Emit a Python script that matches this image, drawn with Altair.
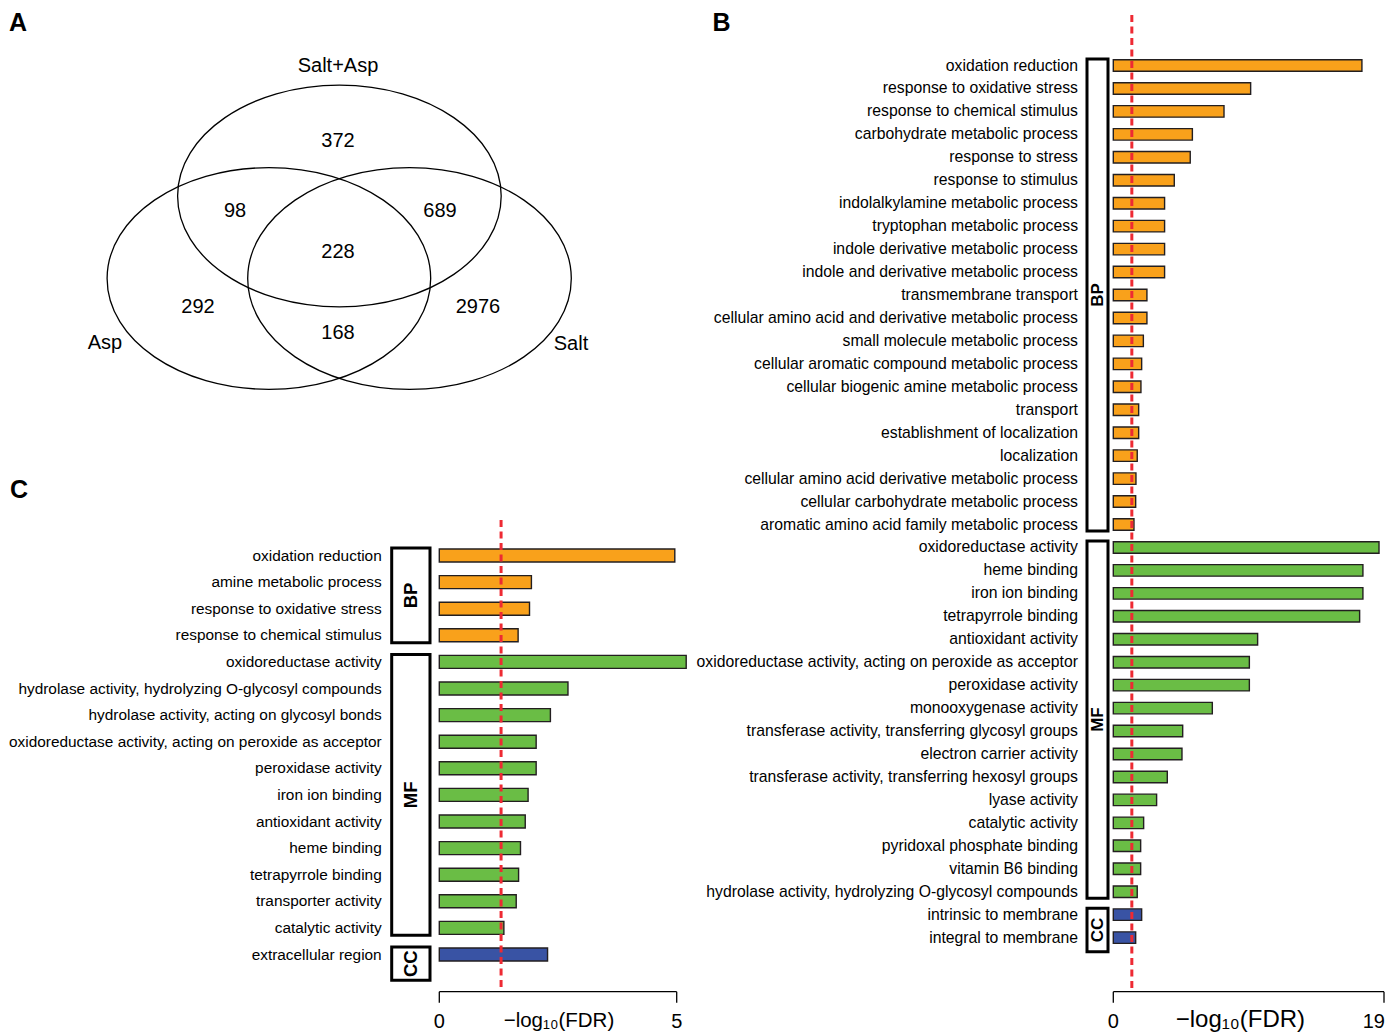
import altair as alt
import pandas as pd

FONT = "Liberation Sans"
W, H = 1378, 1026

# ---------------- Panel A : Venn diagram ----------------
venn_sets = ["Salt+Asp", "Asp", "Salt"]
venn_cx = [339.4, 268.9, 409.5]
venn_cy = [196.0, 278.5, 278.5]
venn_label_x = [338, 105, 571]
venn_label_y = [66, 343, 344]
region_counts = [372, 98, 689, 228, 292, 2976, 168]
region_x = [338, 235, 440, 338, 198, 478, 338]
region_y = [141, 211, 211, 252, 307, 307, 333]
panel_letters = ["A", "B", "C"]
letter_x = [18, 721.5, 19]
letter_y = [31, 31, 498]

# ---------------- Panel B ----------------
b_bp_terms = [
    "oxidation reduction", "response to oxidative stress", "response to chemical stimulus",
    "carbohydrate metabolic process", "response to stress", "response to stimulus",
    "indolalkylamine metabolic process", "tryptophan metabolic process",
    "indole derivative metabolic process", "indole and derivative metabolic process",
    "transmembrane transport", "cellular amino acid and derivative metabolic process",
    "small molecule metabolic process", "cellular aromatic compound metabolic process",
    "cellular biogenic amine metabolic process", "transport",
    "establishment of localization", "localization",
    "cellular amino acid derivative metabolic process",
    "cellular carbohydrate metabolic process",
    "aromatic amino acid family metabolic process",
]
b_bp_values = [17.45, 9.64, 7.77, 5.55, 5.40, 4.28, 3.60, 3.60, 3.60, 3.60, 2.36, 2.36,
               2.11, 1.99, 1.94, 1.78, 1.78, 1.68, 1.59, 1.57, 1.45]
b_mf_terms = [
    "oxidoreductase activity", "heme binding", "iron ion binding", "tetrapyrrole binding",
    "antioxidant activity", "oxidoreductase activity, acting on peroxide as acceptor",
    "peroxidase activity", "monooxygenase activity",
    "transferase activity, transferring glycosyl groups", "electron carrier activity",
    "transferase activity, transferring hexosyl groups", "lyase activity",
    "catalytic activity", "pyridoxal phosphate binding", "vitamin B6 binding",
    "hydrolase activity, hydrolyzing O-glycosyl compounds",
]
b_mf_values = [18.65, 17.52, 17.52, 17.29, 10.13, 9.55, 9.55, 6.95, 4.87, 4.82, 3.79,
               3.04, 2.13, 1.92, 1.92, 1.68]
b_cc_terms = ["intrinsic to membrane", "integral to membrane"]
b_cc_values = [1.99, 1.57]
b_ticks = [0, 19]

# ---------------- Panel C ----------------
c_bp_terms = ["oxidation reduction", "amine metabolic process",
              "response to oxidative stress", "response to chemical stimulus"]
c_bp_values = [4.96, 1.94, 1.90, 1.66]
c_mf_terms = [
    "oxidoreductase activity", "hydrolase activity, hydrolyzing O-glycosyl compounds",
    "hydrolase activity, acting on glycosyl bonds",
    "oxidoreductase activity, acting on peroxide as acceptor", "peroxidase activity",
    "iron ion binding", "antioxidant activity", "heme binding", "tetrapyrrole binding",
    "transporter activity", "catalytic activity",
]
c_mf_values = [5.20, 2.71, 2.34, 2.04, 2.04, 1.87, 1.81, 1.71, 1.67, 1.62, 1.36]
c_cc_terms = ["extracellular region"]
c_cc_values = [2.28]
c_ticks = [0, 5]

fdr_threshold = [1.301]  # -log10(0.05)
axis_title = "\u2212log\u2081\u2080(FDR)"
group_names = ["BP", "MF", "CC"]
group_colors = ["#F9A11B", "#6ABD45", "#3953A4"]

AXIS_Y = 983.7  # plot-pixel row of the bottom axis line


def build(groups):
    rows, boxes = [], []
    i = 0
    for g, (terms, vals) in zip(group_names, groups):
        first = i
        for t, v in zip(terms, vals):
            rows.append({"term": t, "value": v, "idx": i, "group": g,
                         "col": group_colors[group_names.index(g)]})
            i += 1
        boxes.append({"group": g, "first": first, "last": i - 1})
    return pd.DataFrame(rows), pd.DataFrame(boxes)


def panel(df, boxes, ticks, xrange, yrange, label_dx, label_fs, bar_size,
          box_x, box_min_span, grp_fs, rule_y_top, title_pos, title_fs,
          last_label_align):
    n = len(df)
    xs = alt.Scale(domain=[ticks[0], ticks[-1]], range=xrange, nice=False, zero=False,
                   padding=0)
    ys = alt.Scale(domain=[0, n - 1], range=yrange, nice=False, zero=False, padding=0)
    b = boxes.copy()
    b["y0"] = b["first"] - 0.28
    b["y1"] = [max(l + 0.28, f - 0.3 + box_min_span) for f, l in zip(b["first"], b["last"])]
    b["mid"] = (b["y0"] + b["y1"]) / 2
    tick_df = pd.DataFrame({"v": ticks, "lab": [str(t) for t in ticks]})

    bars = alt.Chart(df).mark_bar(orient="horizontal", size=bar_size,
                                  stroke="#231F20", strokeWidth=1.4).encode(
        x=alt.X("value:Q", scale=xs, axis=None),
        y=alt.Y("idx:Q", scale=ys, axis=None),
        color=alt.Color("col:N", scale=None),
    )
    labels = alt.Chart(df).mark_text(align="right", baseline="middle", dx=label_dx,
                                     font=FONT, fontSize=label_fs, color="black").encode(
        x=alt.X(datum=0, scale=xs, axis=None),
        y=alt.Y("idx:Q", scale=ys, axis=None),
        text="term:N",
    )
    rects = alt.Chart(b).mark_rect(fill="white", stroke="black", strokeWidth=3).encode(
        x=alt.value(box_x[0]), x2=alt.value(box_x[1]),
        y=alt.Y("y0:Q", scale=ys, axis=None), y2="y1:Q",
    )
    gtext = alt.Chart(b).mark_text(angle=270, align="center", baseline="middle",
                                   font=FONT, fontWeight="bold", fontSize=grp_fs,
                                   color="black").encode(
        x=alt.value((box_x[0] + box_x[1]) / 2),
        y=alt.Y("mid:Q", scale=ys, axis=None),
        text="group:N",
    )
    rule = alt.Chart(pd.DataFrame({"thr": fdr_threshold})).mark_rule(
        color="#EE2A33", strokeWidth=3, strokeDash=[7, 4.5]).encode(
        x=alt.X("thr:Q", scale=xs, axis=None),
        y=alt.Y(datum=rule_y_top, scale=ys, axis=None),
        y2=alt.value(AXIS_Y),
    )
    # bottom axis (domain line, ticks, tick labels, title) drawn through the x scale
    domain = alt.Chart(tick_df).mark_rule(color="black", strokeWidth=1.3).encode(
        x=alt.X("min(v):Q", scale=xs, axis=None),
        x2="max(v):Q",
        y=alt.value(AXIS_Y),
    )
    tick_marks = alt.Chart(tick_df).mark_rule(color="black", strokeWidth=1.3).encode(
        x=alt.X("v:Q", scale=xs, axis=None),
        y=alt.value(AXIS_Y), y2=alt.value(AXIS_Y + 11),
    )
    first_labels = alt.Chart(tick_df.iloc[:-1]).mark_text(
        font=FONT, fontSize=20, color="black", baseline="alphabetic",
        align="center").encode(
        x=alt.X("v:Q", scale=xs, axis=None),
        y=alt.value(AXIS_Y + 36.6),
        text="lab:N",
    )
    last_label = alt.Chart(tick_df.iloc[-1:]).mark_text(
        font=FONT, fontSize=20, color="black", baseline="alphabetic",
        align=last_label_align[0], dx=last_label_align[1]).encode(
        x=alt.X("v:Q", scale=xs, axis=None),
        y=alt.value(AXIS_Y + 36.6),
        text="lab:N",
    )
    title = alt.Chart(pd.DataFrame({"t": [axis_title], "p": [title_pos]})).mark_text(
        font=FONT, fontSize=title_fs, color="black", baseline="alphabetic",
        align="center").encode(
        x=alt.X("p:Q", scale=xs, axis=None),
        y=alt.value(AXIS_Y + 35.5),
        text="t:N",
    )
    return alt.layer(bars, rects, gtext, labels, rule, domain, tick_marks,
                     first_labels, last_label, title)


dfB, boxB = build([(b_bp_terms, b_bp_values), (b_mf_terms, b_mf_values),
                   (b_cc_terms, b_cc_values)])
dfC, boxC = build([(c_bp_terms, c_bp_values), (c_mf_terms, c_mf_values),
                   (c_cc_terms, c_cc_values)])

panelB = panel(dfB, boxB, b_ticks, [1105.3, 1376.0], [57.5, 929.6], -35.3, 15.75, 11.5,
               (1079, 1100), 1.92, 17, -2.2, 8.92, 24, ("right", 1))
panelC = panel(dfC, boxC, c_ticks, [431.3, 668.7], [547.5, 946.5], -57.6, 15.4, 13,
               (383.7, 422.0), 1.27, 18.5, -1.33, 2.52, 20.5, ("center", 0))

# Venn layer
vx = alt.Scale(domain=[8, 8 + W], range=[0, W], nice=False, zero=False)
vy = alt.Scale(domain=[8, 8 + H], range=[0, H], nice=False, zero=False)
ELLIPSE = "M-1,0A1,0.685,0,1,1,1,0A1,0.685,0,1,1,-1,0Z"

df_sets = pd.DataFrame({"set": venn_sets, "cx": venn_cx, "cy": venn_cy,
                        "lx": venn_label_x, "ly": venn_label_y})
df_regions = pd.DataFrame({"count": [str(c) for c in region_counts],
                           "x": region_x, "y": region_y})
df_letters = pd.DataFrame({"letter": panel_letters, "x": letter_x, "y": letter_y})

ellipses = alt.Chart(df_sets).mark_point(
    shape=ELLIPSE, size=(2 * 161.8) ** 2, filled=False, color="black",
    strokeWidth=1.3, opacity=1).encode(
    x=alt.X("cx:Q", scale=vx, axis=None), y=alt.Y("cy:Q", scale=vy, axis=None))
set_labels = alt.Chart(df_sets).mark_text(font=FONT, fontSize=20, color="black",
                                          baseline="middle").encode(
    x=alt.X("lx:Q", scale=vx, axis=None), y=alt.Y("ly:Q", scale=vy, axis=None),
    text="set:N")
region_labels = alt.Chart(df_regions).mark_text(font=FONT, fontSize=20, color="black",
                                                baseline="middle").encode(
    x=alt.X("x:Q", scale=vx, axis=None), y=alt.Y("y:Q", scale=vy, axis=None),
    text="count:N")
letters = alt.Chart(df_letters).mark_text(font=FONT, fontSize=25, fontWeight="bold",
                                          color="black", baseline="alphabetic").encode(
    x=alt.X("x:Q", scale=vx, axis=None), y=alt.Y("y:Q", scale=vy, axis=None),
    text="letter:N")
venn = alt.layer(ellipses, set_labels, region_labels, letters)

chart = alt.layer(venn, panelB, panelC).resolve_scale(
    x="independent", y="independent"
).properties(
    width=W, height=H, padding=0, autosize=alt.AutoSizeParams(type="none"),
    background="white",
).configure_view(stroke=None)

chart.save("out.html", embed_options={"renderer": "svg", "actions": False})
